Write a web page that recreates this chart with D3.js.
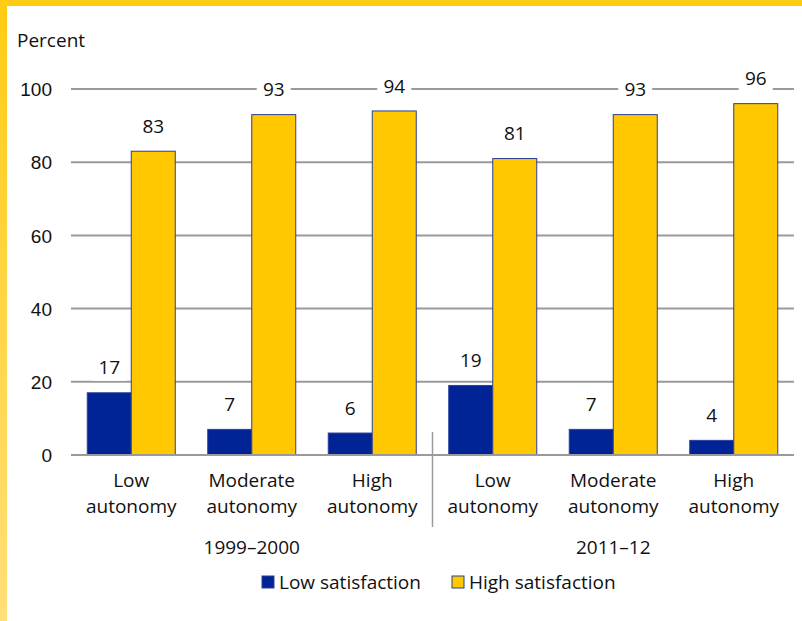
<!DOCTYPE html>
<html>
<head>
<meta charset="utf-8">
<script src="https://cdn.jsdelivr.net/npm/d3@7"></script>
<style>
  html, body { margin: 0; padding: 0; background: #fff; }
  svg { display: block; font-family: "Open Sans", "Noto Sans", sans-serif; }
</style>
</head>
<body>
<svg id="chart" width="802" height="621"></svg>
<script>
// Teacher satisfaction by level of classroom autonomy, two survey years
const periods = ["1999–2000", "2011–12"];
const categories = ["Low autonomy", "Moderate autonomy", "High autonomy",
                    "Low autonomy", "Moderate autonomy", "High autonomy"];
const categoryLines = [["Low", "autonomy"], ["Moderate", "autonomy"], ["High", "autonomy"],
                       ["Low", "autonomy"], ["Moderate", "autonomy"], ["High", "autonomy"]];
const lowSatisfaction = [17, 7, 6, 19, 7, 4];
const highSatisfaction = [83, 93, 94, 81, 93, 96];
const seriesNames = ["Low satisfaction", "High satisfaction"];
const seriesColors = ["#002395", "#FFC800"];
const yTicks = [0, 20, 40, 60, 80, 100];

const svg = d3.select("#chart");
const W = 802, H = 621;

// frame: yellow band across the top, fading band down the left side
const defs = svg.append("defs");
const grad = defs.append("linearGradient").attr("id", "sideFade")
  .attr("x1", 0).attr("y1", 0).attr("x2", 0).attr("y2", 1);
grad.append("stop").attr("offset", "0%").attr("stop-color", "#FFCC14");
grad.append("stop").attr("offset", "100%").attr("stop-color", "#FFDF78");
svg.append("rect").attr("x", 0).attr("y", 0).attr("width", 7).attr("height", H).attr("fill", "url(#sideFade)");
svg.append("rect").attr("x", 0).attr("y", 0).attr("width", W).attr("height", 6).attr("fill", "#FFCC14");

const plotLeft = 71, plotRight = 794;
const y = d3.scaleLinear().domain([0, 100]).range([455, 89]);
const idx = d3.range(categories.length);
const x = d3.scaleBand().domain(idx).range([plotLeft, plotRight]).paddingInner(0).paddingOuter(0);
const barW = 44;

// gridlines
svg.append("g").selectAll("line").data(yTicks).join("line")
  .attr("x1", plotLeft).attr("x2", plotRight)
  .attr("y1", d => y(d)).attr("y2", d => y(d))
  .attr("stroke", "#9a9a9a").attr("stroke-width", 2);

// y axis labels
const yAxis = d3.axisLeft(y).tickValues(yTicks).tickSize(0).tickPadding(0);
const ya = svg.append("g").attr("transform", "translate(52,0)").call(yAxis);
ya.select(".domain").remove();
ya.selectAll("text").attr("font-size", 19).attr("fill", "#111").attr("font-family", "inherit").attr("dy", "0.35em");

svg.append("text").attr("x", 17).attr("y", 47).attr("font-size", 19).attr("fill", "#111").text("Percent");

// bars
const series = [lowSatisfaction, highSatisfaction];
series.forEach((vals, s) => {
  const g = svg.append("g");
  g.selectAll("rect").data(idx).join("rect")
    .attr("x", i => x(i) + x.bandwidth() / 2 - barW + s * barW)
    .attr("width", barW)
    .attr("y", i => y(vals[i]))
    .attr("height", i => y(0) - y(vals[i]))
    .attr("fill", seriesColors[s])
    .attr("stroke", "#2a3f9a").attr("stroke-width", 1);
});

// value labels with white backing
series.forEach((vals, s) => {
  const g = svg.append("g");
  idx.forEach(i => {
    const cx = x(i) + x.bandwidth() / 2 - barW / 2 + s * barW;
    const cy = y(vals[i]) - 25;
    g.append("rect").attr("x", cx - 17).attr("y", cy - 13).attr("width", 34).attr("height", 26).attr("fill", "#fff");
    g.append("text").attr("x", cx).attr("y", cy).attr("dy", "0.35em")
      .attr("text-anchor", "middle").attr("font-size", 19).attr("fill", "#111").text(vals[i]);
  });
});

// baseline redrawn over bar bottoms
svg.append("line").attr("x1", plotLeft).attr("x2", plotRight).attr("y1", y(0)).attr("y2", y(0))
  .attr("stroke", "#9a9a9a").attr("stroke-width", 2);

// category labels
idx.forEach(i => {
  const t = svg.append("text").attr("text-anchor", "middle").attr("font-size", 19).attr("fill", "#111");
  categoryLines[i].forEach((ln, k) => {
    t.append("tspan").attr("x", x(i) + x.bandwidth() / 2).attr("y", 487 + k * 26).text(ln);
  });
});

// period separator and labels
const sepX = x(3);
svg.append("line").attr("x1", sepX).attr("x2", sepX).attr("y1", 432).attr("y2", 527)
  .attr("stroke", "#9a9a9a").attr("stroke-width", 1.5);
periods.forEach((p, k) => {
  svg.append("text").attr("x", x(k * 3 + 1) + x.bandwidth() / 2).attr("y", 554)
    .attr("text-anchor", "middle").attr("font-size", 19).attr("fill", "#111").text(p);
});

// legend
const legendX = [262, 452];
seriesNames.forEach((n, s) => {
  svg.append("rect").attr("x", legendX[s]).attr("y", 576).attr("width", 12).attr("height", 12)
    .attr("fill", seriesColors[s]).attr("stroke", "#2a3f9a").attr("stroke-width", 1);
  svg.append("text").attr("x", legendX[s] + 17).attr("y", 589).attr("font-size", 19).attr("fill", "#111").text(n);
});
</script>
</body>
</html>
